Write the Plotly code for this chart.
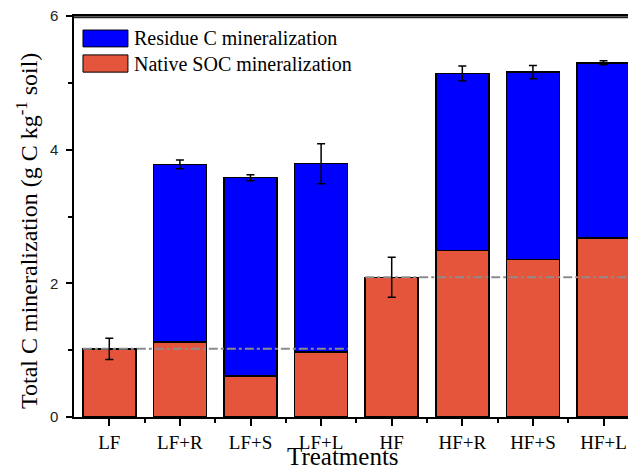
import plotly.graph_objects as go

categories = ["LF", "LF+R", "LF+S", "LF+L", "HF", "HF+R", "HF+S", "HF+L"]
native_soc = [1.02, 1.12, 0.61, 0.97, 2.09, 2.49, 2.36, 2.68]
residue_c = [0.0, 2.66, 2.97, 2.82, 0.0, 2.65, 2.80, 2.62]
total_err = [0.16, 0.065, 0.045, 0.30, 0.30, 0.11, 0.10, 0.03]
y_ticks = [0, 2, 4, 6]

RED = "#E4553B"
BLUE = "#0000FF"
BAR_W = 0.75
SERIF = "Liberation Serif, Times New Roman, serif"
SANS = "Liberation Sans, Arial, sans-serif"

xpos = list(range(len(categories)))
totals = [a + b for a, b in zip(native_soc, residue_c)]

fig = go.Figure()
fig.add_trace(go.Bar(x=xpos, y=native_soc, width=BAR_W, marker=dict(color=RED, line=dict(color="black", width=1.5)),
                     name="Native SOC mineralization", showlegend=False))
fig.add_trace(go.Bar(x=xpos, y=residue_c, width=BAR_W, marker=dict(color=BLUE, line=dict(color="black", width=1.5)),
                     name="Residue C mineralization", showlegend=False))
# reference lines (control levels)
fig.add_trace(go.Scatter(x=[xpos[0] - BAR_W / 2, xpos[3] + BAR_W / 2], y=[native_soc[0]] * 2, mode="lines",
                         line=dict(color="#8C8C8C", width=2, dash="dashdot"), showlegend=False, hoverinfo="skip"))
fig.add_trace(go.Scatter(x=[xpos[4] - BAR_W / 2, 7.5], y=[native_soc[4]] * 2, mode="lines",
                         line=dict(color="#8C8C8C", width=2, dash="dashdot"), showlegend=False, hoverinfo="skip"))
# error bars on totals
fig.add_trace(go.Scatter(x=xpos, y=totals, mode="markers", marker=dict(size=1, opacity=0),
                         error_y=dict(type="data", array=total_err, color="black", thickness=1.5, width=4),
                         showlegend=False, hoverinfo="skip"))

# page has an 8px body margin, so the figure is sized/margined to compensate
fig.update_layout(
    barmode="stack",
    width=628, height=461,
    margin=dict(l=66, r=0, t=8, b=52, autoexpand=False),
    plot_bgcolor="white", paper_bgcolor="white",
    font=dict(family=SERIF, color="black"),
    xaxis=dict(
        range=[-0.5, 7.46], tickmode="array", tickvals=xpos, ticktext=categories,
        ticks="outside", ticklen=7, tickwidth=1.5, tickcolor="black",
        tickfont=dict(family=SERIF, size=19, color="black"), ticklabelstandoff=0,
        showline=True, linecolor="black", linewidth=1.5, mirror=True, showgrid=False, zeroline=False,
        minor=dict(tickvals=[i + 0.5 for i in xpos[:-1]], ticks="outside", ticklen=4, tickwidth=1.5, tickcolor="black"),
        automargin=False,
    ),
    yaxis=dict(
        range=[0, 6], tickmode="array", tickvals=y_ticks,
        ticks="outside", ticklen=6, tickwidth=1.5, tickcolor="black",
        tickfont=dict(family=SANS, size=15, color="#222"), ticklabelstandoff=5, ticklabeloverflow="allow",
        showline=True, linecolor="black", linewidth=1.5, showgrid=False, zeroline=False,
        minor=dict(tickvals=[1, 3, 5], ticks="outside", ticklen=4, tickwidth=1.5, tickcolor="black"),
        automargin=False,
    ),
)

# top frame line
fig.add_shape(type="line", xref="paper", yref="paper", x0=0, x1=1, y0=0.997, y1=0.997,
              line=dict(color="#222222", width=2), layer="above")

# axis titles
fig.add_annotation(xref="paper", yref="paper", x=0.479, y=-0.098, text="Treatments", showarrow=False,
                   xanchor="center", yanchor="middle", font=dict(family=SERIF, size=25, color="black"))
fig.add_annotation(xref="paper", yref="paper", x=-0.0836, y=0.464,
                   text="Total C mineralization (g C kg<sup>-1</sup> soil)", showarrow=False, textangle=-90,
                   xanchor="center", yanchor="middle", font=dict(family=SERIF, size=24, color="black"))

# legend drawn manually (large swatches)
legend_items = [("Residue C mineralization", BLUE, 0.965, 0.923), ("Native SOC mineralization", RED, 0.903, 0.860)]
for label, col, y1, y0 in legend_items:
    fig.add_shape(type="rect", xref="paper", yref="paper", x0=0.016, x1=0.096, y0=y0, y1=y1,
                  fillcolor=col, line=dict(color="black", width=1))
    fig.add_annotation(xref="paper", yref="paper", x=0.103, y=(y0 + y1) / 2, text=label, showarrow=False,
                       xanchor="left", yanchor="middle", font=dict(family=SERIF, size=20, color="black"))

fig.write_html("out.html", config={"displayModeBar": False})
